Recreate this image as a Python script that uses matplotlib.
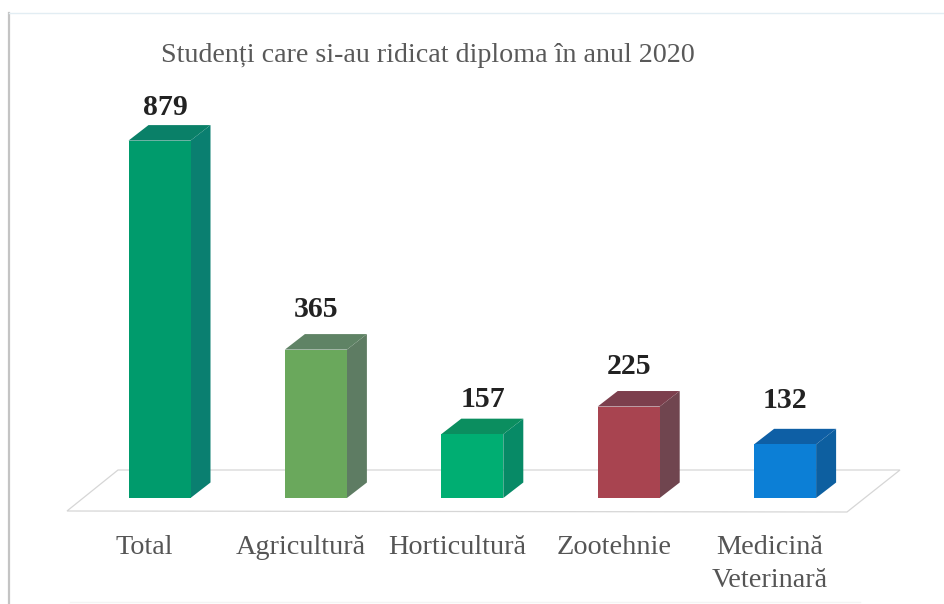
import matplotlib
matplotlib.use("Agg")
import matplotlib.pyplot as plt
from matplotlib.lines import Line2D
from matplotlib.patches import Polygon
from matplotlib.transforms import Affine2D

categories = ["Total", "Agricultură", "Horticultură", "Zootehnie", "Medicină\nVeterinară"]
values = [879, 365, 157, 225, 132]
front_colors = ["#009B6C", "#6AA85C", "#00AE72", "#A84450", "#0C7FD6"]
side_colors = ["#0A7F70", "#5E7C63", "#078A66", "#70454F", "#0D5FA0"]
top_colors = ["#0A8068", "#5F8365", "#0B8E5F", "#7C3F4D", "#0E5FA5"]
title = "Studenți care si-au ridicat diploma în anul 2020"

W, H = 944, 604
plt.rcParams["font.family"] = ["Liberation Serif", "DejaVu Serif"]
fig = plt.figure(figsize=(W / 100, H / 100), dpi=100)
ax = fig.add_axes([0, 0, 1, 1])

# scale: category step and value scale in pixels
STEP, X0, Y0, PPU = 156.4, 159.5, 498.0, 0.4066
ax.set_xlim(-X0 / STEP, (W - X0) / STEP)
ax.set_ylim((Y0 - H) / PPU, Y0 / PPU)
ax.axis("off")

# pixel-space overlay for decorations (origin top-left)
px = Affine2D().scale(1, -1).translate(0, H) + Affine2D().scale(fig.dpi / 100)

floor = Polygon([(67, 511), (847, 512), (900, 470), (118, 470)], closed=True,
                fill=False, edgecolor="#D6D6D6", linewidth=0.9, transform=px, zorder=1)
ax.add_patch(floor)
for xs, ys, c, lw in [
    ([9, 9], [13, 604], "#C4C4C4", 1.6),
    ([9, 944], [13, 13], "#E2EDF3", 1.0),
    ([70, 860], [602, 602], "#F4F4F4", 1.0),
]:
    ax.add_line(Line2D(xs, ys, color=c, linewidth=lw, transform=px, zorder=1))

bar_w = 62 / STEP
dx = 20 / STEP
dy = 15.5 / PPU
for i, v in enumerate(values):
    l, r = i - bar_w / 2, i + bar_w / 2
    ax.fill([r, r + dx, r + dx, r], [0, dy, v + dy, v], color=side_colors[i], lw=0, zorder=3)
    ax.fill([l, l + dx, r + dx, r], [v, v + dy, v + dy, v], color=top_colors[i], lw=0, zorder=3)
ax.bar(range(len(values)), values, width=bar_w, color=front_colors, zorder=4)

# value labels: offsets in pixels from bar centre / back top
label_dx = [6, 0, 11, 0, 0]
label_dy = [18, 25, 19, 25, 28]
for i, v in enumerate(values):
    ax.annotate(str(v), (i, v + dy), xytext=(label_dx[i] * 0.72, label_dy[i] * 0.72),
                textcoords="offset points", ha="center", va="center",
                fontsize=21.4, fontweight="bold", color="#222222", zorder=5)

for i, c in enumerate(categories):
    ax.annotate(c, (i, 0), xytext=(-15 * 0.72, -26.4), textcoords="offset points",
                ha="center", va="top", fontsize=20.3, color="#555555",
                linespacing=1.42, zorder=5)

ax.text(428, 55, title, transform=px, ha="center", va="center",
        fontsize=20.2, color="#595959", zorder=5)

fig.savefig("out.png", dpi=100)
